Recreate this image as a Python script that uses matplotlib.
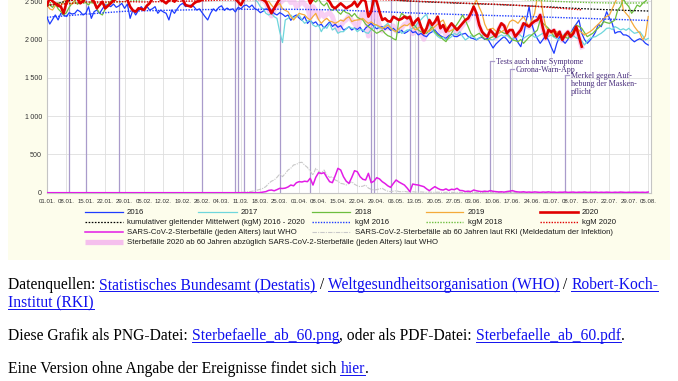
import matplotlib
matplotlib.use("Agg")
import matplotlib.pyplot as plt
from matplotlib.lines import Line2D
from matplotlib.patches import Rectangle
from matplotlib.font_manager import FontProperties
import numpy as np

# ---------------- data ----------------
tick_days = [0, 7, 14, 21, 28, 35, 42, 49, 56, 63, 70, 77, 84, 91, 98, 105,
             112, 119, 126, 133, 140, 147, 154, 161, 168, 175, 182, 189, 196, 203, 210, 217]
tick_labels = ["01.01.", "08.01.", "15.01.", "22.01.", "29.01.", "05.02.", "12.02.", "19.02.",
               "26.02.", "04.03.", "11.03.", "18.03.", "25.03.", "01.04.", "08.04.", "15.04.",
               "22.04.", "29.04.", "06.05.", "13.05.", "20.05.", "27.05.", "03.06.", "10.06.",
               "17.06.", "24.06.", "01.07.", "08.07.", "15.07.", "22.07.", "29.07.", "05.08."]
y_ticks = [0, 500, 1000, 1500, 2000, 2500, 3000]
y_tick_labels = ["0", "500", "1\u2009000", "1\u2009500", "2\u2009000", "2\u2009500", "3\u2009000"]

deaths_2016 = [
    2290, 2202, 2260, 2320, 2255, 2342, 2320, 2300, 2350, 2333,
    2340, 2385, 2363, 2320, 2342, 2428, 2276, 2363, 2385, 2342,
    2400, 2450, 2450, 2429, 2463, 2420, 2440, 2472, 2407, 2463,
    2276, 2385, 2320, 2380, 2429, 2385, 2437, 2385, 2400, 2429,
    2342, 2385, 2360, 2342, 2255, 2385, 2342, 2400, 2450, 2472,
    2429, 2440, 2450, 2429, 2385, 2400, 2350, 2300, 2255, 2340,
    2400, 2370, 2420, 2440, 2380, 2410, 2385, 2400, 2360, 2420,
    2400, 2440, 2450, 2420, 2450, 2400, 2385, 2350, 2370, 2400,
    2385, 2385, 2340, 2320, 2350, 2330, 2300, 2320, 2250, 2300,
    2320, 2280, 2250, 2300, 2210, 2250, 2210, 2230, 2180, 2200,
    2150, 2190, 2230, 2170, 2200, 2160, 2180, 2124, 2140, 2167,
    2124, 2150, 2130, 2160, 2102, 2150, 2180, 2211, 2170, 2140,
    2160, 2167, 2130, 2160, 2120, 2146, 2110, 2090, 2120, 2080,
    2100, 2130, 2090, 2102, 2060, 2080, 2050, 2037, 2080, 2100,
    2124, 2080, 2050, 2030, 2015, 2050, 2070, 2040, 2037, 2060,
    2070, 2081, 2040, 2020, 2010, 1994, 2020, 2030, 2000, 2015,
    1950, 1889, 1940, 1975, 2010, 2037, 2000, 1950, 2000, 2037,
    1960, 1906, 2050, 2250, 2428, 2200, 2081, 2010, 1950, 2000,
    2050, 1990, 1900, 1820, 1950, 2037, 1990, 1950, 2000, 2081,
    2150, 2200, 2255, 2081, 2000, 1950, 1990, 2037, 2100, 2200,
    2167, 2250, 2363, 2280, 2211, 2081, 2100, 2102, 2060, 2059,
    2040, 2000, 1970, 1994, 2010, 1990, 1950, 1928]

deaths_2017 = [
    2900, 2950, 3000, 3050, 3020, 3080, 3100, 3060, 3120, 3090,
    3050, 3100, 3080, 3040, 3000, 3020, 2980, 2950, 2970, 2920,
    2900, 2880, 2920, 2860, 2840, 2870, 2820, 2800, 2830, 2780,
    2760, 2790, 2740, 2720, 2750, 2700, 2690, 2720, 2680, 2660,
    2690, 2650, 2640, 2670, 2630, 2620, 2650, 2610, 2600, 2630,
    2600, 2590, 2620, 2580, 2600, 2570, 2590, 2560, 2580, 2550,
    2570, 2560, 2580, 2550, 2570, 2540, 2560, 2550, 2570, 2540,
    2560, 2540, 2580, 2530, 2550, 2520, 2490, 2428, 2400, 2342,
    2320, 2342, 2298, 2276, 2100, 1960, 2255, 2276, 2320, 2280,
    2298, 2320, 2255, 2211, 2240, 2255, 2189, 2168, 2189, 2102,
    2168, 2146, 2211, 2124, 2150, 2081, 2102, 2102, 2140, 2168,
    2146, 2146, 2102, 2130, 2124, 2090, 2081, 2130, 2160, 2189,
    2150, 2146, 2180, 2211, 2160, 2120, 2102, 2140, 2081, 2100,
    2124, 2124, 2150, 2168, 2233, 2260, 2300, 2330, 2200, 2124,
    2080, 2040, 2015, 2030, 1994, 2010, 2037, 2080, 2060, 2102,
    2040, 1994, 2020, 2050, 2037, 2000, 2015, 2050, 2081, 2040,
    2000, 1994, 2020, 2037, 2060, 2040, 2059, 2020, 1994, 2040,
    2081, 2050, 2015, 2040, 2060, 2059, 2030, 2037, 2060, 2081,
    2070, 2040, 2059, 2030, 2010, 1994, 2040, 2081, 2060, 2037,
    2050, 2020, 2015, 1980, 1928, 1980, 2015, 2030, 2037, 2060,
    2081, 2110, 2146, 2150, 2130, 2168, 2150, 2124, 2140, 2120,
    2146, 2110, 2081, 2090, 2102, 2050, 1994, 2015]

deaths_2018 = [
    2480, 2450, 2420, 2470, 2400, 2363, 2320, 2350, 2420, 2470,
    2500, 2460, 2490, 2520, 2480, 2450, 2500, 2470, 2400, 2342,
    2320, 2400, 2460, 2500, 2530, 2550, 2580, 2600, 2620, 2650,
    2680, 2700, 2690, 2720, 2750, 2780, 2800, 2830, 2850, 2880,
    2900, 2950, 2980, 3000, 3050, 3100, 3150, 3200, 3250, 3300,
    3350, 3400, 3420, 3450, 3500, 3480, 3520, 3500, 3450, 3400,
    3380, 3300, 3250, 3200, 3150, 3100, 3050, 3000, 2950, 2900,
    2860, 2820, 2800, 2780, 2750, 2720, 2700, 2690, 2680, 2660,
    2650, 2640, 2630, 2620, 2640, 2610, 2600, 2620, 2590, 2600,
    2600, 2580, 2610, 2560, 2540, 2570, 2520, 2490, 2530, 2470,
    2440, 2480, 2400, 2380, 2420, 2360, 2330, 2380, 2350, 2340,
    2300, 2340, 2290, 2270, 2255, 2200, 2168, 2140, 2110, 2081,
    2100, 2124, 2080, 2050, 2037, 2010, 1994, 2255, 2342, 2310,
    2298, 2260, 2211, 2170, 2124, 2100, 2090, 2081, 2120, 2168,
    2100, 2060, 2037, 2000, 1972, 2030, 2081, 2150, 2200, 2255,
    2320, 2250, 2168, 2080, 2037, 2060, 2081, 2040, 2010, 1994,
    2020, 2037, 2080, 2124, 2100, 2081, 2081, 2040, 1994, 1985,
    1972, 2000, 1950, 1990, 2030, 2059, 2090, 2124, 2255, 2211,
    2180, 2146, 2100, 2037, 2060, 2081, 2050, 2030, 2015, 2059,
    2120, 2189, 2170, 2146, 2090, 2037, 2060, 2081, 2120, 2150,
    2189, 2233, 2220, 2211, 2230, 2255, 2385, 2429, 2530, 2470,
    2429, 2342, 2385, 2450, 2429, 2472, 2500, 2540]

deaths_2019 = [
    2450, 2400, 2385, 2440, 2480, 2430, 2500, 2520, 2480, 2460,
    2510, 2540, 2500, 2530, 2560, 2540, 2580, 2550, 2600, 2570,
    2590, 2620, 2600, 2640, 2620, 2660, 2640, 2680, 2700, 2670,
    2690, 2720, 2700, 2740, 2720, 2760, 2740, 2780, 2760, 2800,
    2790, 2820, 2800, 2780, 2810, 2790, 2760, 2780, 2750, 2770,
    2740, 2720, 2750, 2710, 2690, 2720, 2680, 2700, 2660, 2680,
    2650, 2670, 2640, 2620, 2650, 2610, 2630, 2600, 2620, 2590,
    2600, 2580, 2590, 2570, 2580, 2560, 2530, 2550, 2510, 2480,
    2500, 2450, 2407, 2440, 2470, 2400, 2380, 2363, 2300, 2255,
    2298, 2342, 2330, 2320, 2280, 2255, 2300, 2342, 2260, 2211,
    2250, 2276, 2240, 2230, 2211, 2230, 2255, 2240, 2276, 2298,
    2233, 2250, 2255, 2260, 2276, 2240, 2211, 2230, 2200, 2189,
    2170, 2146, 2160, 2189, 2150, 2120, 2102, 2140, 2168, 2190,
    2180, 2211, 2160, 2124, 2150, 2168, 2130, 2110, 2102, 2140,
    2168, 2200, 2230, 2255, 2168, 2102, 2120, 2140, 2146, 2180,
    2211, 2240, 2276, 2350, 2450, 2516, 2420, 2342, 2200, 2124,
    2140, 2146, 2110, 2081, 2100, 2124, 2150, 2230, 2255, 2240,
    2211, 2260, 2298, 2230, 2168, 2250, 2342, 2560, 2600, 2342,
    2168, 2110, 2081, 2090, 2102, 2070, 2050, 2037, 2060, 2081,
    2110, 2146, 2120, 2090, 2059, 2080, 2102, 2130, 2168, 2200,
    2240, 2276, 2300, 2320, 2400, 2480, 2560, 2620, 2385, 2340,
    2298, 2230, 2168, 2120, 2081, 1994, 2050, 2300]

deaths_2020 = [
    2450, 2540, 2500, 2472, 2440, 2429, 2342, 2480, 2550, 2520,
    2560, 2530, 2472, 2500, 2540, 2560, 2530, 2494, 2407, 2450,
    2494, 2407, 2440, 2472, 2510, 2530, 2560, 2540, 2550, 2520,
    2429, 2380, 2363, 2407, 2400, 2385, 2440, 2472, 2530, 2550,
    2560, 2520, 2500, 2472, 2510, 2540, 2494, 2530, 2550, 2520,
    2450, 2440, 2429, 2470, 2494, 2500, 2520, 2540, 2570, 2590,
    2560, 2580, 2600, 2560, 2590, 2570, 2550, 2580, 2530, 2490,
    2450, 2520, 2560, 2580, 2550, 2570, 2540, 2530, 2520, 2494,
    2420, 2342, 2407, 2472, 2530, 2560, 2600, 2620, 2580, 2600,
    2560, 2600, 2640, 2610, 2570, 2472, 2530, 2580, 2550, 2600,
    2560, 2530, 2494, 2430, 2407, 2440, 2472, 2440, 2407, 2430,
    2450, 2494, 2429, 2480, 2530, 2494, 2298, 2363, 2540, 2494,
    2363, 2255, 2276, 2240, 2233, 2298, 2276, 2255, 2270, 2298,
    2276, 2298, 2189, 2240, 2276, 2168, 2081, 2146, 2255, 2189,
    2230, 2298, 2146, 2189, 2102, 2160, 2211, 2168, 2124, 2168,
    2210, 2255, 2276, 2342, 2429, 2342, 2189, 2102, 2060, 2037,
    2124, 2081, 2037, 2140, 2211, 2180, 2081, 2124, 2124, 2037,
    2080, 2124, 2211, 2189, 2168, 2211, 2240, 2255, 2320, 2146,
    2015, 2124, 2100, 2124, 2037, 2102, 1994, 2060, 2102, 2037,
    2081, 2168, 2037, 1907]

covid_who_all_ages = [
    0, 0, 0, 0, 0, 0, 0, 0, 0, 0, 0, 0, 0, 0, 0, 0, 0, 0, 0, 0,
    0, 0, 0, 0, 0, 0, 0, 0, 0, 0, 0, 0, 0, 0, 0, 0, 0, 0, 0, 0,
    0, 0, 0, 0, 0, 0, 0, 0, 0, 0, 0, 0, 0, 0, 0, 0, 0, 0, 0, 0,
    0, 0, 0, 0, 0, 0, 0, 0, 0, 0, 0, 0, 0, 0, 0, 0, 0,
    2, 8, 14, 30, 35, 25, 40, 57, 55, 60,
    75, 100, 90, 130, 144, 140, 150, 144, 188, 100,
    200, 261, 250, 261, 200, 144, 131, 220, 318, 296,
    209, 150, 122, 200, 287, 274, 209, 175, 166, 253,
    131, 150, 196, 180, 144, 120, 90, 70, 120, 166,
    140, 120, 100, 60, 13, 113, 105, 100, 90, 79,
    50, 26, 55, 79, 57, 40, 35, 50, 30, 45,
    40, 57, 30, 27, 15, 20, 14, 35, 25, 18,
    14, 20, 15, 27, 18, 14, 10, 12, 8, 15,
    20, 27, 15, 10, 8, 12, 6, 9, 5, 10,
    7, 4, 9, 6, 11, 5, 8, 3, 7, 6,
    9, 4, 6, 8, 3, 7, 5, 9, 4, 6,
    5, 8, 3, 6, 4, 7, 5, 3, 6, 4,
    8, 5, 3, 6, 4, 7, 5, 4, 6, 3, 9]

covid_rki_60plus = [
    0, 0, 0, 0, 0, 0, 0, 0, 0, 0, 0, 0, 0, 0, 0, 0, 0, 0, 0, 0,
    0, 0, 0, 0, 0, 0, 0, 0, 0, 0, 0, 0, 0, 0, 0, 0, 0, 0, 0, 0,
    0, 0, 0, 0, 0, 0, 0, 0, 0, 0, 0, 0, 0, 0, 0, 0, 0, 0, 0, 0,
    0, 0, 0, 0, 0, 0, 0, 0, 0,
    2, 3, 5, 8, 12, 18, 25, 35, 45, 57,
    80, 120, 150, 166, 200, 244, 209, 250, 296, 320,
    362, 370, 392, 397, 360, 330, 280, 230, 318, 280,
    253, 296, 231, 200, 209, 166, 150, 122, 115, 101,
    120, 144, 110, 90, 79, 85, 101, 60, 45, 35,
    40, 50, 57, 35, 20, 14, 20, 25, 15, 12,
    18, 10, 8, 12, 9, 6, 10, 7, 5, 8,
    6, 4, 7, 5, 3, 6, 4, 5, 3, 4,
    5, 2, 4, 3, 5, 2, 3, 4, 2, 3,
    2, 4, 3, 2, 3, 5, 2, 3, 2, 4,
    3, 2, 4, 2, 3, 2, 3, 4, 2, 3,
    2, 3, 2, 4, 2, 3, 2, 2, 3, 2,
    3, 2, 4, 2, 3, 2, 3, 2, 2, 3,
    2, 3, 2, 2, 3, 2, 4, 2, 3, 2,
    2, 3, 2, 2, 3, 2, 2, 3, 2]

kgm_days = tick_days
kgm_all = [2440, 2500, 2540, 2570, 2600, 2620, 2640, 2660, 2680, 2690, 2700, 2700,
           2690, 2670, 2640, 2610, 2575, 2540, 2512, 2497, 2486, 2476, 2467, 2458,
           2448, 2437, 2424, 2410, 2398, 2388, 2379, 2372]
kgm_2016 = [2290, 2310, 2330, 2350, 2368, 2375, 2380, 2385, 2390, 2392, 2394, 2395,
            2395, 2393, 2390, 2385, 2375, 2365, 2355, 2345, 2336, 2328, 2320, 2313,
            2306, 2298, 2290, 2282, 2274, 2265, 2257, 2248]
kgm_2018 = [2480, 2470, 2475, 2480, 2495, 2520, 2550, 2590, 2650, 2700, 2730, 2740,
            2740, 2735, 2725, 2705, 2685, 2665, 2640, 2620, 2600, 2580, 2565, 2548,
            2532, 2515, 2500, 2490, 2482, 2477, 2476, 2478]
kgm_2020_days = [0, 7, 14, 21, 28, 35, 42, 49, 56, 63, 70, 77, 84, 91, 98, 105, 112,
                 119, 126, 133, 140, 147, 154, 161, 168, 175, 182, 189, 193]
kgm_2020 = [2450, 2465, 2490, 2490, 2495, 2490, 2495, 2500, 2505, 2515, 2520, 2522,
            2525, 2530, 2535, 2535, 2530, 2522, 2512, 2500, 2490, 2480, 2470, 2462,
            2450, 2435, 2418, 2398, 2388]

event_days = [8, 14, 26, 56, 68, 69, 71, 75, 84, 95, 117, 118, 124, 131, 134]
labeled_event_days = [160, 167, 187]
labeled_event_levels = [1719, 1615, 1537]
labeled_event_texts = ["Tests auch ohne Symptome", "Corona-Warn-App",
                       "Merkel gegen Auf-\nhebung der Masken-\npflicht"]

# ---------------- figure ----------------
plt.rcParams['font.family'] = ['Liberation Sans', 'DejaVu Sans']
W, H = 678, 381
fig = plt.figure(figsize=(W / 100, H / 100), dpi=100)
fig.patch.set_facecolor('white')


def fx(px):
    return px / W


def fy(py):
    return 1 - py / H


fig.add_artist(Rectangle((fx(8), fy(260)), fx(670) - fx(8), fy(-5) - fy(260),
                         transform=fig.transFigure, facecolor='#FDFDEC',
                         edgecolor='none', zorder=-10))

y0_px = 192.7
px_per_unit = 38.3 / 500
ymax = 3000
ax = fig.add_axes([fx(47), fy(y0_px), (651 - 47) / W, ymax * px_per_unit / H])
ax.set_xlim(0, 218)
ax.set_ylim(0, ymax)
ax.set_facecolor('white')
ax.set_axisbelow(True)
ax.grid(True, color='#DEDEDE', lw=0.6)
for s in ax.spines.values():
    s.set_color('#C4C4C4')
    s.set_linewidth(0.8)
ax.set_xticks(tick_days, tick_labels)
ax.set_yticks(y_ticks, y_tick_labels)
ax.tick_params(axis='x', length=0, labelsize=4.4, colors='#333333', pad=4.3)
ax.tick_params(axis='y', length=0, labelsize=5.1, colors='#333333', pad=3.5)

ev_col = '#A99BCB'
txt_col = '#4A2F7E'
for d in event_days:
    ax.axvline(d, color=ev_col, lw=0.9, zorder=1.5)
for d, lv, t in zip(labeled_event_days, labeled_event_levels, labeled_event_texts):
    ax.vlines(d, 0, lv, color=ev_col, lw=0.9, zorder=1.5)
    ax.plot([d, d + 1.4], [lv, lv], color=ev_col, lw=0.9, zorder=1.5)
    ax.text(d + 2.0, lv + 40, t, fontsize=5.8, family='Liberation Serif', color=txt_col,
            va='top', ha='left', linespacing=1.0)

c2016, c2017, c2018, c2019, c2020 = '#1E3CFF', '#6ED6DC', '#6DBE3F', '#F4AA3A', '#E00000'
cmag, cgray, cpink = '#E21CE6', '#C8C8C8', '#F4B0EE'

ax.plot(np.arange(len(deaths_2016)), deaths_2016, color=c2016, lw=0.9, zorder=3)
ax.plot(np.arange(len(deaths_2017)), deaths_2017, color=c2017, lw=0.9, zorder=3)
ax.plot(np.arange(len(deaths_2018)), deaths_2018, color=c2018, lw=0.9, zorder=3)
ax.plot(np.arange(len(deaths_2019)), deaths_2019, color=c2019, lw=0.9, zorder=3)

who = np.array(covid_who_all_ages)
d20 = np.arange(len(deaths_2020))
start = int(np.argmax(who > 0))
pink = np.array(deaths_2020[start:]) - who[start:len(deaths_2020)]
ax.plot(d20[start:], pink, color=cpink, lw=3.6, alpha=0.6, zorder=2.8)

ax.plot(kgm_days, kgm_all, color='black', lw=0.9, ls=(0, (1.3, 1.2)), zorder=5)
ax.plot(kgm_days, kgm_2016, color=c2016, lw=1.0, ls=(0, (1, 1)), zorder=5)
ax.plot(kgm_days, kgm_2018, color=c2018, lw=1.0, ls=(0, (1, 1)), zorder=5)
ax.plot(kgm_2020_days, kgm_2020, color=c2020, lw=1.0, ls=(0, (1, 1)), zorder=5)

ax.plot(np.arange(len(covid_rki_60plus)), covid_rki_60plus, color=cgray, lw=0.8,
        ls=(0, (4, 1, 1, 1)), zorder=4.5)
ax.plot(np.arange(len(who)), who, color=cmag, lw=1.1, zorder=5.5)
ax.plot(d20, deaths_2020, color=c2020, lw=1.9, zorder=6)

# ---------------- legend ----------------
leg_fs = 5.6


def leg_line(x0, x1, y, **kw):
    fig.add_artist(Line2D([fx(x0), fx(x1)], [fy(y), fy(y)], transform=fig.transFigure, **kw))


def leg_text(x, y, s):
    fig.text(fx(x), fy(y), s, fontsize=leg_fs, va='center', ha='left', color='#1A1A1A')


cols = [(85, 123, 127), (198, 237, 241), (312, 350, 355), (426, 463, 468), (540, 578, 582)]
rows = [212.3, 222.3, 232.3, 242.3]
legend_items = [
    (0, 0, dict(color=c2016, lw=0.9), "2016"),
    (0, 1, dict(color=c2017, lw=0.9), "2017"),
    (0, 2, dict(color=c2018, lw=0.9), "2018"),
    (0, 3, dict(color=c2019, lw=0.9), "2019"),
    (0, 4, dict(color=c2020, lw=1.9), "2020"),
    (1, 0, dict(color='black', lw=0.9, ls=(0, (1.3, 1.2))),
     "kumulativer gleitender Mittelwert (kgM) 2016 - 2020"),
    (1, 2, dict(color=c2016, lw=1.0, ls=(0, (1, 1))), "kgM 2016"),
    (1, 3, dict(color=c2018, lw=1.0, ls=(0, (1, 1))), "kgM 2018"),
    (1, 4, dict(color=c2020, lw=1.0, ls=(0, (1, 1))), "kgM 2020"),
    (2, 0, dict(color=cmag, lw=1.1), "SARS-CoV-2-Sterbefälle (jeden Alters) laut WHO"),
    (2, 2, dict(color=cgray, lw=0.8, ls=(0, (4, 1, 1, 1))),
     "SARS-CoV-2-Sterbefälle ab 60 Jahren laut RKI (Meldedatum der Infektion)"),
    (3, 0, dict(color=cpink, lw=3.8, alpha=0.8, solid_capstyle='butt'),
     "Sterbefälle 2020 ab 60 Jahren abzüglich SARS-CoV-2-Sterbefälle (jeden Alters) laut WHO"),
]
for r, c, kw, label in legend_items:
    x0, x1, xt = cols[c]
    leg_line(x0, x1, rows[r], **kw)
    leg_text(xt, rows[r], label)

# ---------------- page text below the chart ----------------
renderer = fig.canvas.get_renderer()


def measure(s, fp):
    a = fig.text(0, 0, '|' + s + '|', fontproperties=fp)
    b = fig.text(0, 0, '||', fontproperties=fp)
    w = a.get_window_extent(renderer).width - b.get_window_extent(renderer).width
    a.remove()
    b.remove()
    return w


link_col = '#1010EE'
lines_html = [
    (289, [("Datenquellen: ", False), ("Statistisches Bundesamt (Destatis)", True), (" / ", False),
           ("Weltgesundheitsorganisation (WHO)", True), (" / ", False), ("Robert-Koch-", True)]),
    (307, [("Institut (RKI)", True)]),
    (340, [("Diese Grafik als PNG-Datei: ", False), ("Sterbefaelle_ab_60.png", True),
           (", oder als PDF-Datei: ", False), ("Sterbefaelle_ab_60.pdf", True), (".", False)]),
    (373, [("Eine Version ohne Angabe der Ereignisse findet sich ", False), ("hier", True),
           (".", False)]),
]
fp12 = FontProperties(family='Liberation Serif', size=12)
w1 = measure("".join(p for p, _ in lines_html[0][1]), fp12)
fs = 12 * 648 / w1
fp = FontProperties(family='Liberation Serif', size=fs)
for base, pieces in lines_html:
    x = 8.0
    for s, is_link in pieces:
        col = link_col if is_link else 'black'
        fig.text(fx(x), fy(base), s, fontproperties=fp, color=col, va='baseline', ha='left')
        w = measure(s, fp)
        if is_link:
            fig.add_artist(Line2D([fx(x), fx(x + w)], [fy(base + 2.0), fy(base + 2.0)],
                                  transform=fig.transFigure, color=link_col, lw=0.7))
        x += w

fig.savefig('out.png', dpi=100)
